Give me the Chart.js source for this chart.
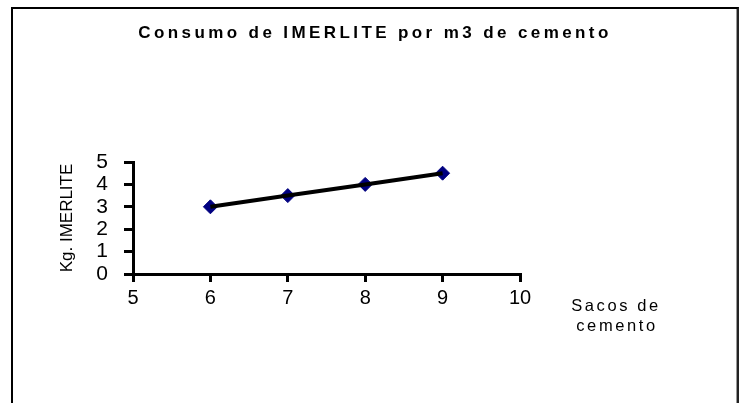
<!DOCTYPE html>
<html>
<head>
<meta charset="utf-8">
<script src="https://cdn.jsdelivr.net/npm/chart.js@4"></script>
<style>
  body { margin: 0; background: #fff; }
  #wrap { position: relative; width: 743px; height: 403px; overflow: hidden; }
  #frame {
    position: absolute; left: 11px; top: 7px; width: 724px; height: 430px;
    border: 2px solid #000; border-right-color: #222;
    box-shadow: -1px 0 0 #999 inset; pointer-events: none;
  }
</style>
</head>
<body>
<div id="wrap">
  <canvas id="myChart" width="743" height="403"></canvas>
  <div id="frame"></div>
</div>
<script>
// data
var sacos = [6, 7, 8, 9];
var kgImerlite = [3, 3.5, 4, 4.5];
var xTickLabels = [5, 6, 7, 8, 9, 10];
var yTickLabels = [0, 1, 2, 3, 4, 5];

var titleText = 'Consumo de IMERLITE por m3 de cemento';
var yTitle = 'Kg. IMERLITE';
var xTitle = ['Sacos de', 'cemento'];

var FONT = '"Liberation Sans", Arial, sans-serif';

var puntos = [];
for (i = 0; i < sacos.length; i++) {
    puntos.push({ x: sacos[i], y: kgImerlite[i] });
}

// title and x axis caption are letter-spaced in the original
var textos = {
    id: 'textos',
    afterDraw: function (chart) {
        var ctx = chart.ctx;
        ctx.save();
        ctx.fillStyle = '#000';
        ctx.textBaseline = 'alphabetic';
        ctx.textAlign = 'center';
        ctx.letterSpacing = '3.4px';
        ctx.font = 'bold 17px ' + FONT;
        ctx.fillText(titleText, 375, 38);
        ctx.letterSpacing = '2.6px';
        ctx.font = '16.5px ' + FONT;
        ctx.fillText(xTitle[0], 616, 311);
        ctx.fillText(xTitle[1], 617, 331);
        ctx.restore();
    }
};

var ctx_ = document.getElementById('myChart').getContext('2d');
var myChart = new Chart(ctx_, {
    type: 'scatter',
    data: {
        datasets: [{
            // line on top
            data: puntos,
            showLine: true,
            borderColor: '#000',
            borderWidth: 4,
            pointRadius: 0,
            order: 0
        }, {
            data: puntos,
            showLine: false,
            pointStyle: 'rectRot',
            pointRadius: 7,
            pointBackgroundColor: '#000080',
            pointBorderColor: '#000080',
            pointBorderWidth: 1,
            order: 1
        }]
    },
    options: {
        responsive: false,
        animation: false,
        layout: { padding: { left: 0, top: 162, right: 223, bottom: 89 } },
        plugins: {
            legend: { display: false },
            tooltip: { enabled: false }
        },
        scales: {
            x: {
                type: 'linear',
                min: xTickLabels[0],
                max: xTickLabels[xTickLabels.length - 1],
                afterFit: function (s) { s.height = 40; },
                afterBuildTicks: function (s) {
                    s.ticks = xTickLabels.map(function (v) { return { value: v }; });
                },
                grid: { drawOnChartArea: false, drawTicks: true, tickLength: 8, color: '#000', lineWidth: 3 },
                border: { display: true, color: '#000', width: 3 },
                ticks: { color: '#000', padding: 4, autoSkip: false, maxRotation: 0, font: { family: FONT, size: 20 } }
            },
            y: {
                min: yTickLabels[0],
                max: yTickLabels[yTickLabels.length - 1],
                afterFit: function (s) { s.width = 133; },
                afterBuildTicks: function (s) {
                    s.ticks = yTickLabels.map(function (v) { return { value: v }; });
                },
                grid: { drawOnChartArea: false, drawTicks: true, tickLength: 9, color: '#000', lineWidth: 3 },
                border: { display: true, color: '#000', width: 3 },
                ticks: { color: '#000', padding: 16, autoSkip: false, font: { family: FONT, size: 21 } },
                title: {
                    display: true,
                    text: yTitle,
                    color: '#000',
                    padding: { top: 57, bottom: 0 },
                    font: { family: FONT, size: 17 }
                }
            }
        }
    },
    plugins: [textos]
});
</script>
</body>
</html>
